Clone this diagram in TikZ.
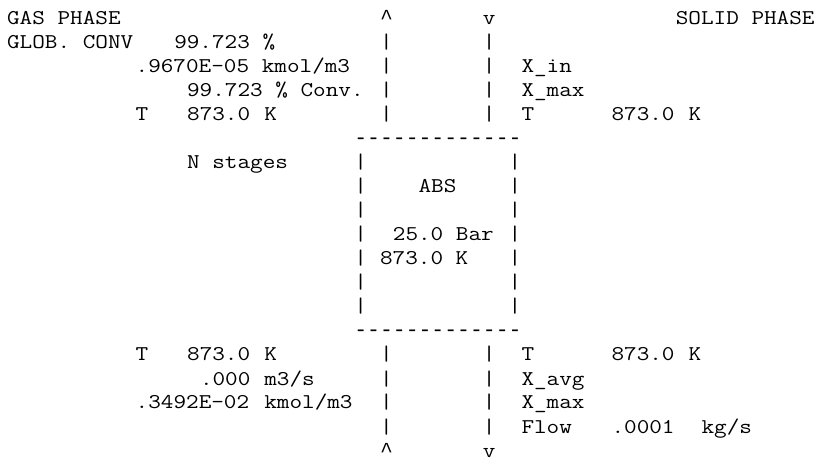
\documentclass[tikz,border=0pt]{standalone}
\usepackage{fontspec}
\usepackage{graphicx}
\newfontfamily\symmono{Liberation Mono}
\tikzset{
  txt/.style={anchor=base west, inner sep=0pt, outer sep=0pt,
    font=\fontsize{21pt}{24pt}\selectfont\ttfamily, text=black},
  sym/.style={anchor=base west, inner sep=0pt, outer sep=0pt,
    font=\fontsize{21.43pt}{24pt}\selectfont\symmono, text=black}
}
\newcommand\cellat[4]{\node[txt] (#1) at ({(7.1+#3*12.86)*1pt},{-(25+(#2-1)*24.0)*1pt}) {\scalebox{1.1664}[1]{#4}};}
\newcommand\symat[4]{\node[sym] (#1) at ({(7.1+#3*12.86)*1pt},{-(25+(#2-1)*24.0)*1pt}) {#4};}
\newcommand\caretchar{\textasciicircum}
\begin{document}
\begin{tikzpicture}
\useasboundingbox[fill=white] (0,0) rectangle (817pt,-462pt);
% row 1
\cellat{gas}{1}{0}{GAS PHASE}
\symat{upa}{1}{29}{\caretchar}
\cellat{dna}{1}{37}{v}
\cellat{solid}{1}{52}{SOLID PHASE}
% row 2
\cellat{glob}{2}{0}{GLOB. CONV}
\cellat{globv}{2}{13}{99.723 \%}
% row 3
\cellat{conc}{3}{10}{.9670E-05 kmol/m3}
\cellat{xin}{3}{40}{X\_in}
% row 4
\cellat{conv}{4}{14}{99.723 \% Conv.}
\cellat{xmaxa}{4}{40}{X\_max}
% row 5
\cellat{tga}{5}{10}{T}
\cellat{tgav}{5}{14}{873.0}
\cellat{tgak}{5}{20}{K}
\cellat{tsa}{5}{40}{T}
\cellat{tsav}{5}{47}{873.0}
\cellat{tsak}{5}{53}{K}
% gas and solid pipes, top and bottom
\foreach \r in {2,3,4,5,15,16,17,18}{
  \cellat{pl\r}{\r}{29}{|}
  \cellat{pr\r}{\r}{37}{|}
}
% box
\symat{topdash}{6}{27}{-------------}
\symat{botdash}{14}{27}{-------------}
\foreach \r in {7,...,13}{
  \cellat{bl\r}{\r}{27}{|}
  \cellat{br\r}{\r}{39}{|}
}
\cellat{nst}{7}{14}{N stages}
\cellat{abs}{8}{32}{ABS}
\cellat{bar}{10}{30}{25.0 Bar}
\cellat{temp}{11}{29}{873.0 K}
% row 15
\cellat{tgb}{15}{10}{T}
\cellat{tgbv}{15}{14}{873.0}
\cellat{tgbk}{15}{20}{K}
\cellat{tsb}{15}{40}{T}
\cellat{tsbv}{15}{47}{873.0}
\cellat{tsbk}{15}{53}{K}
% row 16
\cellat{vol}{16}{15}{.000}
\cellat{volu}{16}{20}{m3/s}
\cellat{xavg}{16}{40}{X\_avg}
% row 17
\cellat{concb}{17}{10}{.3492E-02}
\cellat{concbu}{17}{20}{kmol/m3}
\cellat{xmaxb}{17}{40}{X\_max}
% row 18
\cellat{flow}{18}{40}{Flow}
\cellat{flowv}{18}{47}{.0001}
\cellat{flowu}{18}{54}{kg/s}
% row 19
\symat{upb}{19}{29}{\caretchar}
\cellat{dnb}{19}{37}{v}
\end{tikzpicture}
\end{document}
